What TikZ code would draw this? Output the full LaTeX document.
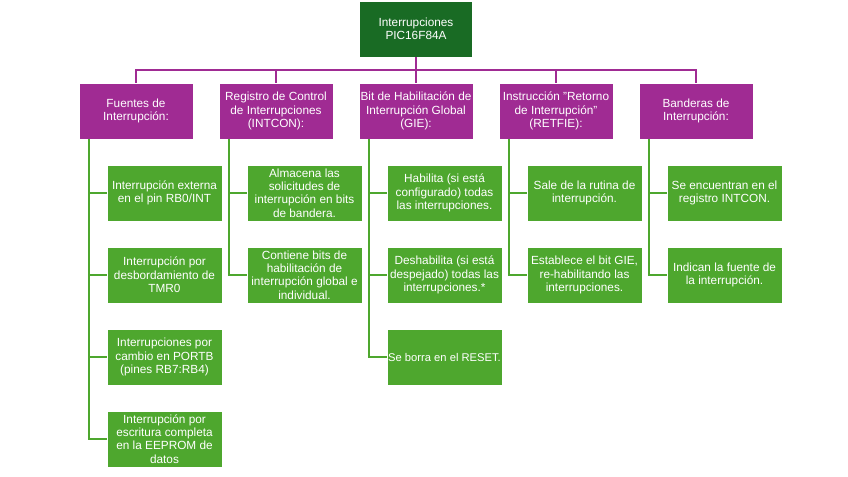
\documentclass[tikz,border=0pt]{standalone}
\usepackage{fontspec}
\setmainfont{Liberation Sans}
\definecolor{dkgreen}{HTML}{196B24}
\definecolor{ltgreen}{HTML}{4EA72E}
\definecolor{purp}{HTML}{A02B93}
\tikzset{
 base/.style={draw=white, line width=0.6bp, text=white, align=center, inner sep=1bp, font=\fontsize{11.8bp}{13.4bp}\selectfont},
 rootbox/.style={base, fill=dkgreen, minimum width=113bp, minimum height=56bp},
 headbox/.style={base, fill=purp, minimum width=114bp, minimum height=56bp},
 childbox/.style={base, fill=ltgreen, minimum width=115bp, minimum height=56bp},
 plink/.style={draw=purp, line width=1.8bp},
 glink/.style={draw=ltgreen, line width=1.8bp},
}
\begin{document}
\begin{tikzpicture}[x=1bp,y=-1bp]
\useasboundingbox[fill=white] (0,0) rectangle (848,477);
\node[rootbox] (root) at (416,29) {Interrupciones\\PIC16F84A};
\node[headbox] (h1) at (136,111) {Fuentes de\\Interrupción:};
\node[headbox] (h2) at (276,111) {Registro de Control\\de Interrupciones\\(INTCON):};
\node[headbox] (h3) at (416,111) {Bit de Habilitación de\\Interrupción Global\\(GIE):};
\node[headbox] (h4) at (556,111) {Instrucción \symbol{34}Retorno\\de Interrupción\symbol{34}\\(RETFIE):};
\node[headbox] (h5) at (696,111) {Banderas de\\Interrupción:};
% column 1
\node[childbox] (c11) at (164.5,193) {Interrupción externa\\en el pin RB0/INT};
\node[childbox] (c12) at (164.5,275) {Interrupción por\\desbordamiento de\\TMR0};
\node[childbox] (c13) at (164.5,357) {Interrupciones por\\cambio en PORTB\\(pines RB7:RB4)};
\node[childbox] (c14) at (164.5,439) {Interrupción por\\escritura completa\\en la EEPROM de\\datos};
% column 2
\node[childbox] (c21) at (304.5,193) {Almacena las\\solicitudes de\\interrupción en bits\\de bandera.};
\node[childbox] (c22) at (304.5,275) {Contiene bits de\\habilitación de\\interrupción global e\\individual.};
% column 3
\node[childbox] (c31) at (444.5,193) {Habilita (si está\\configurado) todas\\las interrupciones.};
\node[childbox] (c32) at (444.5,275) {Deshabilita (si está\\despejado) todas las\\interrupciones.*};
\node[childbox, inner sep=0pt, font=\fontsize{11.2bp}{13.4bp}\selectfont] (c33) at (444.5,357) {Se borra en el RESET.};
% column 4
\node[childbox] (c41) at (584.5,193) {Sale de la rutina de\\interrupción.};
\node[childbox] (c42) at (584.5,275) {Establece el bit GIE,\\re-habilitando las\\interrupciones.};
% column 5
\node[childbox] (c51) at (724.5,193) {Se encuentran en el\\registro INTCON.};
\node[childbox] (c52) at (724.5,275) {Indican la fuente de\\la interrupción.};
% purple bus
\coordinate (bus) at (416,70);
\draw[plink] (root.south) -- (bus);
\draw[plink] (h1.north) -- (h1.north |- bus) -- (h5.north |- bus) -- (h5.north);
\foreach \h in {h2,h3,h4} \draw[plink] (\h.north) -- (\h.north |- bus);
% green links
\foreach \c in {c11,c12,c13,c14} \draw[glink] ([xshift=10bp]h1.south west) |- (\c.west);
\foreach \c in {c21,c22} \draw[glink] ([xshift=10bp]h2.south west) |- (\c.west);
\foreach \c in {c31,c32,c33} \draw[glink] ([xshift=10bp]h3.south west) |- (\c.west);
\foreach \c in {c41,c42} \draw[glink] ([xshift=10bp]h4.south west) |- (\c.west);
\foreach \c in {c51,c52} \draw[glink] ([xshift=10bp]h5.south west) |- (\c.west);
\end{tikzpicture}
\end{document}
